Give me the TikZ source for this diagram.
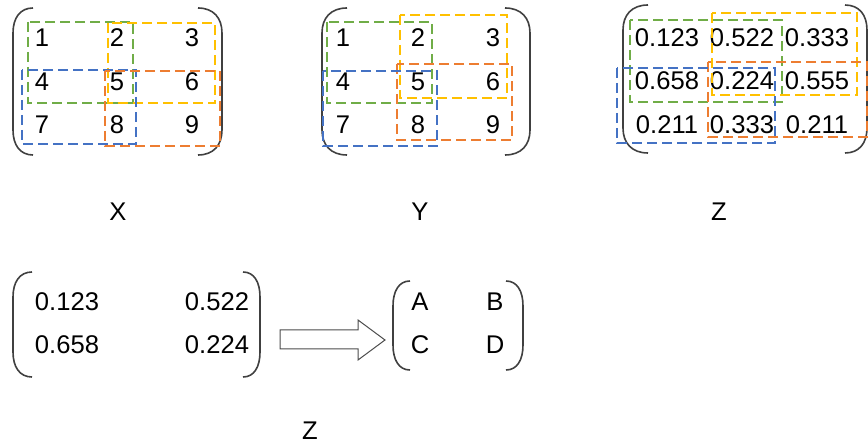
\documentclass[tikz,border=0pt]{standalone}
\usepackage{fontspec}
\setmainfont{Liberation Sans}
\usetikzlibrary{matrix}

\definecolor{gbox}{RGB}{112,173,71}
\definecolor{ybox}{RGB}{255,192,0}
\definecolor{bbox}{RGB}{68,114,196}
\definecolor{obox}{RGB}{237,125,49}

\tikzset{
  dbox/.style={line width=1pt, dash pattern=on 5pt off 2.5pt},
  paren/.style={line width=0.8pt, draw=black!75},
  grid3/.style={matrix of nodes, inner sep=0pt,
    nodes={minimum width=37.5pt, minimum height=21.75pt, inner sep=0pt, anchor=center}},
  grid2/.style={matrix of nodes, inner sep=0pt, column sep=37.5pt,
    nodes={minimum width=37.5pt, minimum height=21.5pt, inner sep=0pt, anchor=center}}
}

\begin{document}
\begin{tikzpicture}[x=0.5pt,y=-0.5pt,font=\fontsize{12.8}{15}\selectfont]
  \useasboundingbox (0,0) rectangle (868,443);

  \matrix (X) [grid3] at (117,81.5)
  {
   1 & 2 & 3 \\
   4 & 5 & 6 \\
   7 & 8 & 9 \\
  };
  \matrix (Y) [grid3] at (418,81.5)
  {
   1 & 2 & 3 \\
   4 & 5 & 6 \\
   7 & 8 & 9 \\
  };
  \matrix (Z) [grid3] at (742,81)
  {
   0.123 & 0.522 & 0.333 \\
   0.658 & 0.224 & 0.555 \\
   0.211 & 0.333 & 0.211 \\
  };
  \matrix (Zs) [grid2] at (142,323.5)
  {
   0.123 & 0.522 \\
   0.658 & 0.224 \\
  };
  \matrix (R) [grid2,column sep=0pt] at (457.5,323.5)
  {
   A & B \\
   C & D \\
  };

  \node (xlab) at (118,212) {X};
  \node (ylab) at (420,212) {Y};
  \node (zlab) at (719,212) {Z};
  \node (zslab) at (310,431) {Z};

  % brackets
  \foreach \a/\b/\t/\u in {13/33/8/155, 222/198/8/155, 322/347/8/155, 530/505/8/155,
      623/648/5/153, 867/845/5/153, 13/32/272/377, 260/243/272/377,
      393/410/281/370, 523/506/281/370}
    \draw[paren] (\b,\t) .. controls ({\a+0.35*(\b-\a)},\t) and (\a,\t+10) .. (\a,\t+25)
      -- (\a,\u-25) .. controls (\a,\u-10) and ({\a+0.35*(\b-\a)},\u) .. (\b,\u);

  % windows on X
  \draw[dbox,gbox] (28,22) rectangle (133,103);
  \draw[dbox,ybox] (108,23) rectangle (215,103);
  \draw[dbox,bbox] (22,70) rectangle (136,144);
  \draw[dbox,obox] (105,71) rectangle (220,146);

  % windows on Y
  \draw[dbox,gbox] (327,22) rectangle (432,103);
  \draw[dbox,ybox] (400,15) rectangle (507,98);
  \draw[dbox,obox] (397,64) rectangle (512,140);
  \draw[dbox,bbox] (323,71) rectangle (437,146);

  % windows on Z
  \draw[dbox,gbox] (630,20) rectangle (782,102);
  \draw[dbox,ybox] (712,13) rectangle (857,95);
  \draw[dbox,obox] (708,62) rectangle (867,137);
  \draw[dbox,bbox] (617,68) rectangle (775,143);

  % big arrow
  \draw[line width=0.5pt, draw=black!70, fill=white]
    (280,330) -- (358,330) -- (358,320) -- (385,340) -- (358,360) -- (358,349) -- (280,349) -- cycle;
\end{tikzpicture}
\end{document}
